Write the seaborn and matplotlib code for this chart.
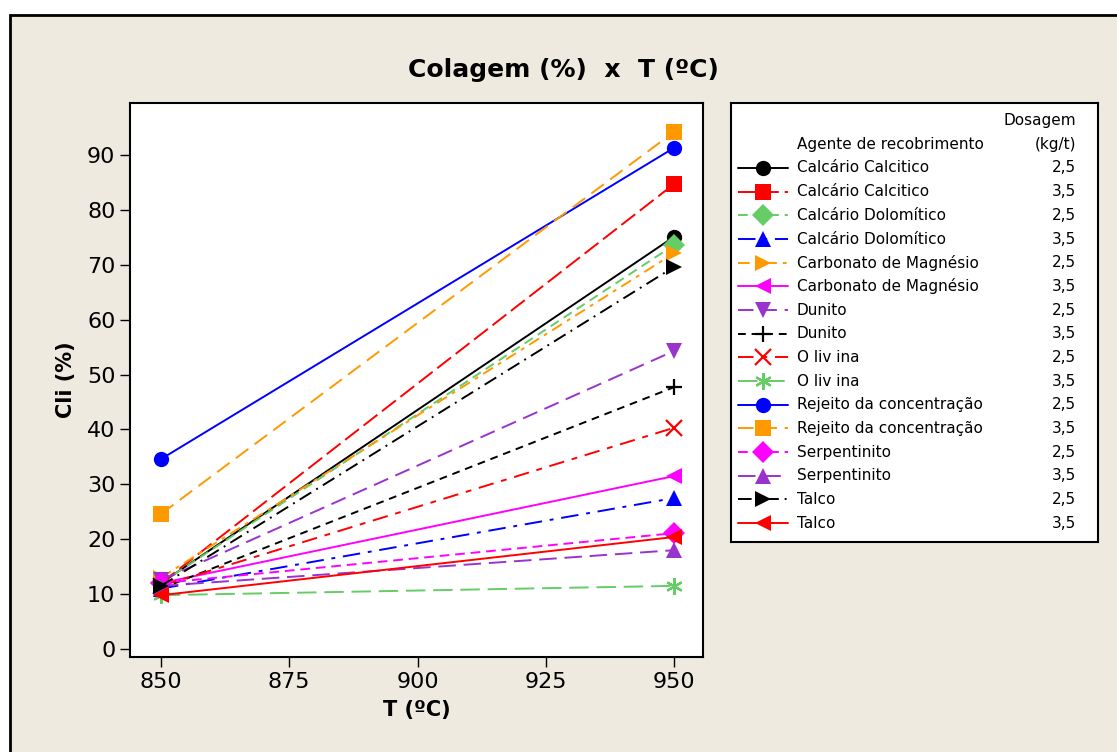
import matplotlib
matplotlib.use("Agg")
import matplotlib.pyplot as plt
from matplotlib.patches import Rectangle
from matplotlib import font_manager
import seaborn as sns
import pandas as pd

# ---------------------------------------------------------------------
# Data
# ---------------------------------------------------------------------
temperaturas = [850, 950]
agentes = [
    "Calcário Calcitico", "Calcário Calcitico",
    "Calcário Dolomítico", "Calcário Dolomítico",
    "Carbonato de Magnésio", "Carbonato de Magnésio",
    "Dunito", "Dunito",
    "O liv ina", "O liv ina",
    "Rejeito da concentração", "Rejeito da concentração",
    "Serpentinito", "Serpentinito",
    "Talco", "Talco",
]
dosagens = ["2,5", "3,5"] * 8
cli_850 = [12.0, 12.0, 12.0, 11.0, 13.0, 12.0, 12.5, 11.0,
           11.5, 9.8, 34.6, 24.6, 12.0, 11.5, 11.5, 9.8]
cli_950 = [75.1, 84.7, 73.6, 27.5, 72.1, 31.5, 54.3, 47.7,
           40.3, 11.5, 91.3, 94.2, 21.1, 18.0, 69.6, 20.4]

# styling per series
cores = ["black", "#FF0000", "#66CC66", "#0000FF", "#FF9900", "#FF00FF",
         "#9933CC", "black", "#FF0000", "#66CC66", "#0000FF", "#FF9900",
         "#FF00FF", "#9933CC", "black", "#FF0000"]
marcadores = ["o", "s", "D", "^", ">", "<", "v", "+", "x", (6, 2, 0),
              "o", "s", "D", "^", ">", "<"]
tracos = [None, (9, 3), (5, 3), (9, 4, 2, 4), (6, 3, 2, 3), None,
          (8, 4), (4, 3), (8, 4, 3, 4), (10, 4), None, (8, 4),
          (5, 3), (9, 4), (7, 3, 1, 3), None]

rows = []
for i, (ag, d) in enumerate(zip(agentes, dosagens)):
    for t, v in zip(temperaturas, [cli_850[i], cli_950[i]]):
        rows.append({"serie": i, "agente": ag, "dosagem": d, "T": t, "Cli": v})
df = pd.DataFrame(rows)

# ---------------------------------------------------------------------
# Figure
# ---------------------------------------------------------------------
sns.set_style("white")
plt.rcParams["font.family"] = ["DejaVu Sans"]
plt.rcParams["text.color"] = "black"
plt.rcParams["axes.labelcolor"] = "black"
plt.rcParams["xtick.color"] = "black"
plt.rcParams["ytick.color"] = "black"

# narrow font for tick labels if available
nomes = {f.name for f in font_manager.fontManager.ttflist}
fonte_ticks = "Liberation Sans Narrow" if "Liberation Sans Narrow" in nomes else "DejaVu Sans"

fig = plt.figure(figsize=(11.17, 7.52), dpi=100)
fig.patch.set_facecolor("white")
fig.patches.append(Rectangle((10 / 1117, -0.1), 1.2, 1 - 15 / 752 + 0.1,
                             transform=fig.transFigure, facecolor="#EEEAE0",
                             edgecolor="black", linewidth=2, zorder=-10))

ax = fig.add_axes([130 / 1117, 1 - 657 / 752, 573 / 1117, 554 / 752])
ax.set_facecolor("white")


def estilo(i):
    ls = "-" if tracos[i] is None else (0, tracos[i])
    filled = marcadores[i] not in ("+", "x", (6, 2, 0))
    kw = dict(marker=marcadores[i], markersize=11 if filled else 12,
              markeredgewidth=0 if filled else 1.6, markeredgecolor=cores[i])
    return ls, kw


for i in range(len(agentes)):
    sub = df[df["serie"] == i]
    ls, kw = estilo(i)
    sns.lineplot(data=sub, x="T", y="Cli", ax=ax, color=cores[i],
                 linestyle=ls, linewidth=1.4, legend=False, zorder=3, **kw)

ax.set_xlim(843.96, 955.65)
ax.set_ylim(-1.46, 99.47)
ax.set_xticks([850, 875, 900, 925, 950])
ax.set_yticks(range(0, 91, 10))
ax.tick_params(direction="out", length=7, width=1, labelsize=16,
               bottom=True, left=True, colors="black")
for lab in ax.get_xticklabels() + ax.get_yticklabels():
    lab.set_fontfamily(fonte_ticks)
for s in ax.spines.values():
    s.set_color("black")
    s.set_linewidth(1.5)
ax.set_xlabel("T (ºC)", fontsize=15, fontweight="bold", labelpad=6)
ax.set_ylabel("Cli (%)", fontsize=15, fontweight="bold", labelpad=8)

fig.text(563 / 1117, 1 - 70 / 752, "Colagem (%)  x  T (ºC)",
         ha="center", va="center", fontsize=18, fontweight="bold")

# ---------------------------------------------------------------------
# Legend box (drawn by hand, Minitab style with dosage column)
# ---------------------------------------------------------------------
lx0, lx1, ly0, ly1 = 731, 1098, 103, 542
lax = fig.add_axes([lx0 / 1117, 1 - ly1 / 752, (lx1 - lx0) / 1117,
                    (ly1 - ly0) / 752])
lax.set_xlim(lx0, lx1)
lax.set_ylim(ly1, ly0)
lax.set_xticks([])
lax.set_yticks([])
lax.set_facecolor("white")
for s in lax.spines.values():
    s.set_color("black")
    s.set_linewidth(1.5)

fs = 11
lax.text(1076, 120, "Dosagem", ha="right", va="center", fontsize=fs)
lax.text(1076, 144, "(kg/t)", ha="right", va="center", fontsize=fs)
lax.text(797, 144, "Agente de recobrimento", ha="left", va="center", fontsize=fs)
for i, (ag, d) in enumerate(zip(agentes, dosagens)):
    y = 168 + i * 23.67
    ls, kw = estilo(i)
    lax.plot([738, 788], [y, y], color=cores[i], linestyle=ls, linewidth=1.4)
    lax.plot([763], [y], color=cores[i], **kw)
    lax.text(797, y, ag, ha="left", va="center", fontsize=fs)
    lax.text(1076, y, d, ha="right", va="center", fontsize=fs)

fig.savefig("out.png", dpi=100, facecolor=fig.get_facecolor())
